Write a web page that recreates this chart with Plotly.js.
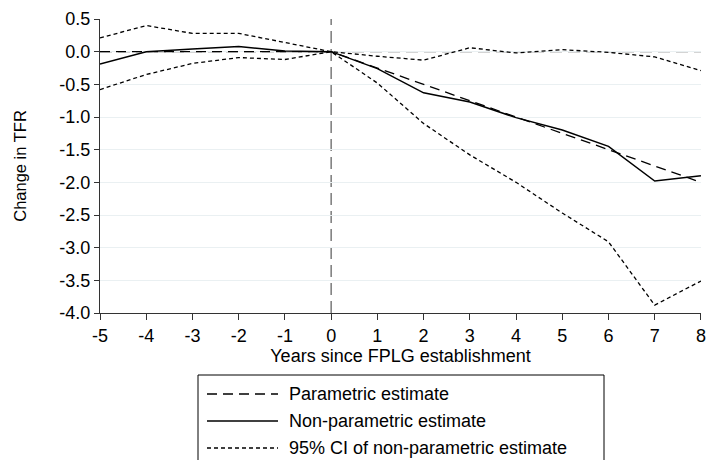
<!DOCTYPE html>
<html><head><meta charset="utf-8">
<script src="https://cdn.plot.ly/plotly-3.0.1.min.js"></script>
<style>html,body{margin:0;padding:0;background:#fff}#c{width:706px;height:460px}</style>
</head><body><div id="c"></div>
<script>
const years = [-5,-4,-3,-2,-1,0,1,2,3,4,5,6,7,8];
const parametric = [0,0,0,0,0,0,-0.25,-0.5,-0.75,-1.0,-1.25,-1.5,-1.75,-2.0];
const nonParametric = [-0.19,0.0,0.04,0.08,0.01,0.0,-0.26,-0.63,-0.77,-1.01,-1.2,-1.45,-1.98,-1.9];
const ciUpper = [0.21,0.40,0.28,0.28,0.14,0.0,-0.07,-0.13,0.06,-0.02,0.03,-0.01,-0.08,-0.29];
const ciLower = [-0.58,-0.35,-0.18,-0.09,-0.12,0.0,-0.48,-1.1,-1.58,-2.0,-2.47,-2.91,-3.88,-3.51];
const legendLabels = ["Parametric estimate","Non-parametric estimate","95% CI of non-parametric estimate"];
const yTicks = [0.5,0,-0.5,-1,-1.5,-2,-2.5,-3,-3.5,-4];

const font = {family:"Liberation Sans, Arial, sans-serif", size:18, color:"#000"};
const yTitleFont = {family:"Liberation Sans, Arial, sans-serif", size:16.5, color:"#000"};
const styles = [
  {color:"#000", width:1.3, dash:"10px,6px"},
  {color:"#000", width:1.5, dash:"solid"},
  {color:"#000", width:1.3, dash:"4px,3px"}
];
const traces = [
  {x:years, y:ciUpper, mode:"lines", line:styles[2], showlegend:false},
  {x:years, y:ciLower, mode:"lines", line:styles[2], showlegend:false},
  {x:years, y:parametric, mode:"lines", line:styles[0], showlegend:false},
  {x:years, y:nonParametric, mode:"lines", line:styles[1], showlegend:false}
];

// plot area: left 100, right 701, top 19, bottom 313
const L = 100, R = 701, T = 19, B = 313;
const py = p => (B - p) / (B - T);
const px = p => (p - L) / (R - L);
const shapes = [
  {type:"line", xref:"x", yref:"paper", x0:0, x1:0, y0:0, y1:1, line:{color:"#666", width:1.3, dash:"12px,6px"}, layer:"below"},
  {type:"line", xref:"paper", yref:"y", x0:0, x1:1, y0:0, y1:0, line:{color:"#555", width:1.3, dash:"12px,6px"}, layer:"below"},
  {type:"rect", xref:"paper", yref:"paper", x0:px(198), x1:px(604), y0:py(375), y1:py(462), line:{color:"#000", width:1}}
];
const rows = [394,421,448];
const annotations = [];
rows.forEach((r,i)=>{
  shapes.push({type:"line", xref:"paper", yref:"paper", x0:px(207), x1:px(278), y0:py(r), y1:py(r), line:styles[i]});
  annotations.push({xref:"paper", yref:"paper", x:px(287), y:py(r), text:legendLabels[i], showarrow:false, xanchor:"left", yanchor:"middle", font:font});
});

const layout = {
  width:706, height:460,
  margin:{l:L, r:706-R, t:T, b:460-B},
  paper_bgcolor:"#fff", plot_bgcolor:"#fff",
  font:font,
  showlegend:false,
  xaxis:{range:[-5,8.001], tickvals:years, ticktext:years.map(String), showgrid:false, zeroline:false,
    showline:true, linecolor:"#333", linewidth:1, ticks:"outside", ticklen:6, tickcolor:"#333",
    ticklabeloverflow:"allow",
    tickfont:font, title:{text:"Years since FPLG establishment", font:font, standoff:0}},
  yaxis:{range:[-4,0.5], tickvals:yTicks, ticktext:yTicks.map(v=>v.toFixed(1)), showgrid:true, gridcolor:"#eaf0f2", gridwidth:1,
    zeroline:false, showline:true, linecolor:"#333", linewidth:1, ticks:"outside", ticklen:5, tickcolor:"#333",
    tickfont:font, title:{text:"Change in TFR", font:yTitleFont, standoff:28}},
  shapes:shapes, annotations:annotations
};
Plotly.newPlot("c", traces, layout, {displayModeBar:false, staticPlot:true});
</script></body></html>
